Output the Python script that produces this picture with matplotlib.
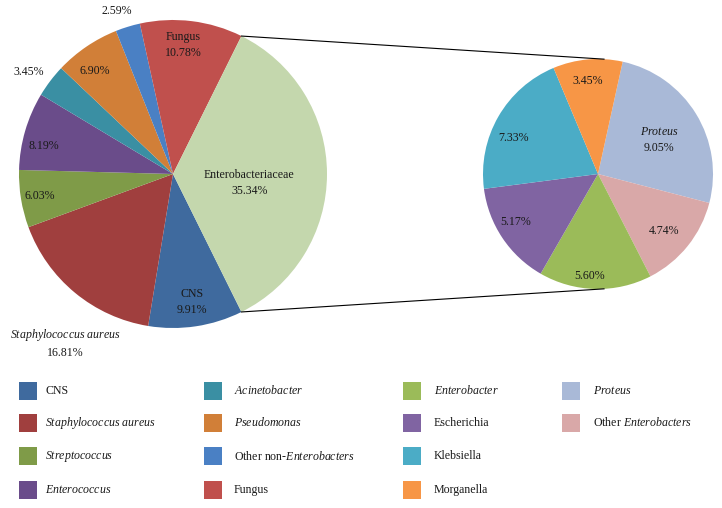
import numpy as np
import matplotlib
matplotlib.use('Agg')
import matplotlib.pyplot as plt
from matplotlib.patches import Rectangle

plt.rcParams['font.family'] = ['Liberation Serif', 'DejaVu Serif']
plt.rcParams['mathtext.fontset'] = 'custom'
plt.rcParams['mathtext.rm'] = 'Liberation Serif'
plt.rcParams['mathtext.it'] = 'Liberation Serif:italic'

# ---------------- data ----------------
main_cats = ['CNS', 'Staphylococcus aureus', 'Streptococcus', 'Enterococcus',
             'Acinetobacter', 'Pseudomonas', 'Other non-Enterobacters', 'Fungus',
             'Enterobacteriaceae']
main_vals = [9.91, 16.81, 6.03, 8.19, 3.45, 6.90, 2.59, 10.78, 35.34]
main_labels = ['CNS\n9.91%', r'$\mathit{Staphylococcus\ aureus}$' + '\n16.81%', '6.03%', '8.19%',
               '3.45%', '6.90%', '2.59%', 'Fungus\n10.78%', 'Enterobacteriaceae\n35.34%']

sub_cats = ['Proteus', 'Other Enterobacters', 'Enterobacter', 'Escherichia',
            'Klebsiella', 'Morganella']
sub_vals = [9.05, 4.74, 5.60, 5.17, 7.33, 3.45]
sub_labels = [r'$\mathit{Proteus}$' + '\n9.05%', '4.74%', '5.60%', '5.17%', '7.33%', '3.45%']

legend_names = ['CNS', r'$\mathit{Staphylococcus\ aureus}$', r'$\mathit{Streptococcus}$',
                r'$\mathit{Enterococcus}$', r'$\mathit{Acinetobacter}$', r'$\mathit{Pseudomonas}$',
                r'Other non-$\mathit{Enterobacters}$', 'Fungus', r'$\mathit{Enterobacter}$',
                'Escherichia', 'Klebsiella', 'Morganella', r'$\mathit{Proteus}$',
                r'Other $\mathit{Enterobacters}$']

# ---------------- styles ----------------
main_colors = ['#3F6A9E', '#A03F3E', '#7F9B48', '#6A4C8A', '#3A8FA3', '#D17F38',
               '#4A80C4', '#C0504D', '#C4D7AD']
sub_colors = ['#A9B9D7', '#D9A8A8', '#9BBB59', '#8064A2', '#4BACC6', '#F79646']
color_map = dict(zip(main_cats, main_colors))
color_map.update(zip(sub_cats, sub_colors))
legend_keys = ['CNS', 'Staphylococcus aureus', 'Streptococcus', 'Enterococcus',
               'Acinetobacter', 'Pseudomonas', 'Other non-Enterobacters', 'Fungus',
               'Enterobacter', 'Escherichia', 'Klebsiella', 'Morganella', 'Proteus',
               'Other Enterobacters']

main_lab_r = [0.84, 1.30, 0.88, 0.86, 1.15, 0.84, 1.12, 0.84, 0.50]
main_lab_da = [0, 7, 0, 4, 2, 3, 2, 2.6, -6.7]
sub_lab_r = [0.61, 0.76, 0.89, 0.83, 0.80, 0.81]
sub_lab_da = [-2.5, -2.3, -3.6, -3.7, 7, 1]

W, H = 722, 508
FS = 8.6

fig = plt.figure(figsize=(W / 100, H / 100), dpi=100)
ax = fig.add_axes([0, 0, 1, 1])

c_main = (173, H - 174)
r_main = 154
c_sub = (598, H - 174)
r_sub = 115

tot_main = sum(main_vals)
start_main = -main_vals[-1] / tot_main * 360 / 2
ax.pie(main_vals, colors=main_colors, startangle=start_main, counterclock=False,
       center=c_main, radius=r_main, wedgeprops=dict(linewidth=0))

start_sub = 77.6
ax.pie(sub_vals, colors=sub_colors, startangle=start_sub, counterclock=False,
       center=c_sub, radius=r_sub, wedgeprops=dict(linewidth=0))


def place_labels(vals, labels, start, center, radius, rfr, dang):
    tot = sum(vals)
    cum = start
    for v, lab, rf, da in zip(vals, labels, rfr, dang):
        span = v / tot * 360
        mid = cum - span / 2 + da
        cum -= span
        x = center[0] + rf * radius * np.cos(np.radians(mid))
        y = center[1] + rf * radius * np.sin(np.radians(mid))
        ax.text(x, y, lab, ha='center', va='center', fontsize=FS,
                linespacing=1.45, color='#1a1a1a', multialignment='center')


place_labels(main_vals, main_labels, start_main, c_main, r_main, main_lab_r, main_lab_da)
place_labels(sub_vals, sub_labels, start_sub, c_sub, r_sub, sub_lab_r, sub_lab_da)

# connector lines
half = main_vals[-1] / tot_main * 360 / 2
for sgn in (1, -1):
    a0 = np.radians(sgn * half)
    a1 = np.radians(sgn * 87)
    x0 = c_main[0] + r_main * np.cos(a0)
    y0 = c_main[1] + r_main * np.sin(a0)
    x1 = c_sub[0] + r_sub * np.cos(a1)
    y1 = c_sub[1] + r_sub * np.sin(a1)
    ax.plot([x0, x1], [y0, y1], color='black', lw=0.8)

# legend
col_x = [19, 204, 403, 562]
txt_off = [26, 30, 31, 31]
row_y = [391, 423, 456, 490]
sq = 18
for i, (key, name) in enumerate(zip(legend_keys, legend_names)):
    col, row = divmod(i, 4)
    x = col_x[col]
    y = H - row_y[row]
    ax.add_patch(Rectangle((x, y - sq / 2), sq, sq, facecolor=color_map[key],
                           edgecolor='none'))
    ax.text(x + txt_off[col], y, name, ha='left', va='center', fontsize=FS, color='#1a1a1a')

ax.set_xlim(0, W)
ax.set_ylim(0, H)
ax.set_aspect('equal')
ax.axis('off')

fig.savefig('out.png', dpi=100)
